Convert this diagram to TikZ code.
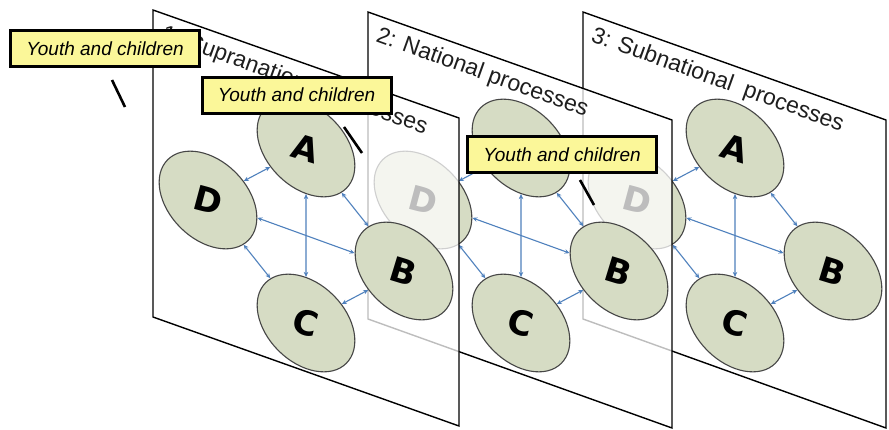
\documentclass[tikz,border=0pt]{standalone}
\usepackage{fontspec}
\setmainfont{Liberation Sans}
\newfontfamily\letterfont{DejaVu Sans}
\usepackage{graphicx}
\usetikzlibrary{arrows.meta,shapes.geometric}
\definecolor{ellfill}{RGB}{214,220,196}
\definecolor{ellline}{RGB}{70,70,70}
\definecolor{arrblue}{RGB}{79,129,189}
\definecolor{calloutyellow}{RGB}{251,247,153}
\definecolor{titlegrey}{RGB}{30,30,30}
\begin{document}
\begin{tikzpicture}[x=1pt,y=-1pt,
  panel/.style={draw=black, line width=1.4pt, fill=white, fill opacity=0.74, line join=miter},
  ell/.style={ellipse, draw=ellline, line width=1.1pt, fill=ellfill, minimum width=114pt, minimum height=78pt, inner sep=0pt, rotate=-45, font=\letterfont\fontsize{34}{34}\selectfont\bfseries},
  biarr/.style={draw=arrblue, line width=1.1pt, {Stealth[length=5pt,width=4.5pt]}-{Stealth[length=5pt,width=4.5pt]}},
  callout/.style={draw=black, line width=3pt, fill=calloutyellow, minimum width=189pt, minimum height=36pt, inner sep=0pt, font=\fontsize{19}{19}\selectfont\itshape},
  pointer/.style={draw=black, line width=2.6pt},
  paneltitle/.style={anchor=base west, rotate=-19.8, inner sep=0pt, text=titlegrey, font=\fontsize{23}{23}\selectfont}]
\useasboundingbox (0,0) rectangle (889,429);
\foreach \k/\L/\R/\T/\ox/\ttl in {3/583/886/12/429/{3: Subnational\hspace{6pt} processes},2/368/672/12/215/{2: National processes},1/153/459/10/0/{1: Supranational processes}}{
  \filldraw[panel] (\L,\T) -- (\R,\T+108) -- (\R,\T+416) -- (\L,\T+307) -- cycle;
  \node[paneltitle] (t\k) at (\L+7,\T+29) {\ttl};
  \node[ell] (A\k) at (306+\ox,148) {\rotatebox{28}{A}};
  \node[ell] (B\k) at (404+\ox,271) {\rotatebox{28}{B}};
  \node[ell] (C\k) at (306+\ox,323) {\rotatebox{30}{C}};
  \node[ell] (D\k) at (208+\ox,200) {\rotatebox{30}{D}};
  \draw[biarr] (D\k) -- (A\k);
  \draw[biarr] (A\k) -- (C\k);
  \draw[biarr] (A\k) -- (B\k);
  \draw[biarr] (D\k) -- (B\k);
  \draw[biarr] (D\k) -- (C\k);
  \draw[biarr] (C\k) -- (B\k);
}
\node[callout] (y1) at (105,48.5) {Youth and children};
\node[callout] (y2) at (296.5,95) {Youth and children};
\node[callout] (y3) at (562,154.5) {Youth and children};
\coordinate (p1a) at (112,80);  \coordinate (p1b) at (125,107);
\coordinate (p2a) at (344,127); \coordinate (p2b) at (362,153);
\coordinate (p3a) at (580,180); \coordinate (p3b) at (594,205);
\draw[pointer] (p1a) -- (p1b);
\draw[pointer] (p2a) -- (p2b);
\draw[pointer] (p3a) -- (p3b);
\end{tikzpicture}
\end{document}
